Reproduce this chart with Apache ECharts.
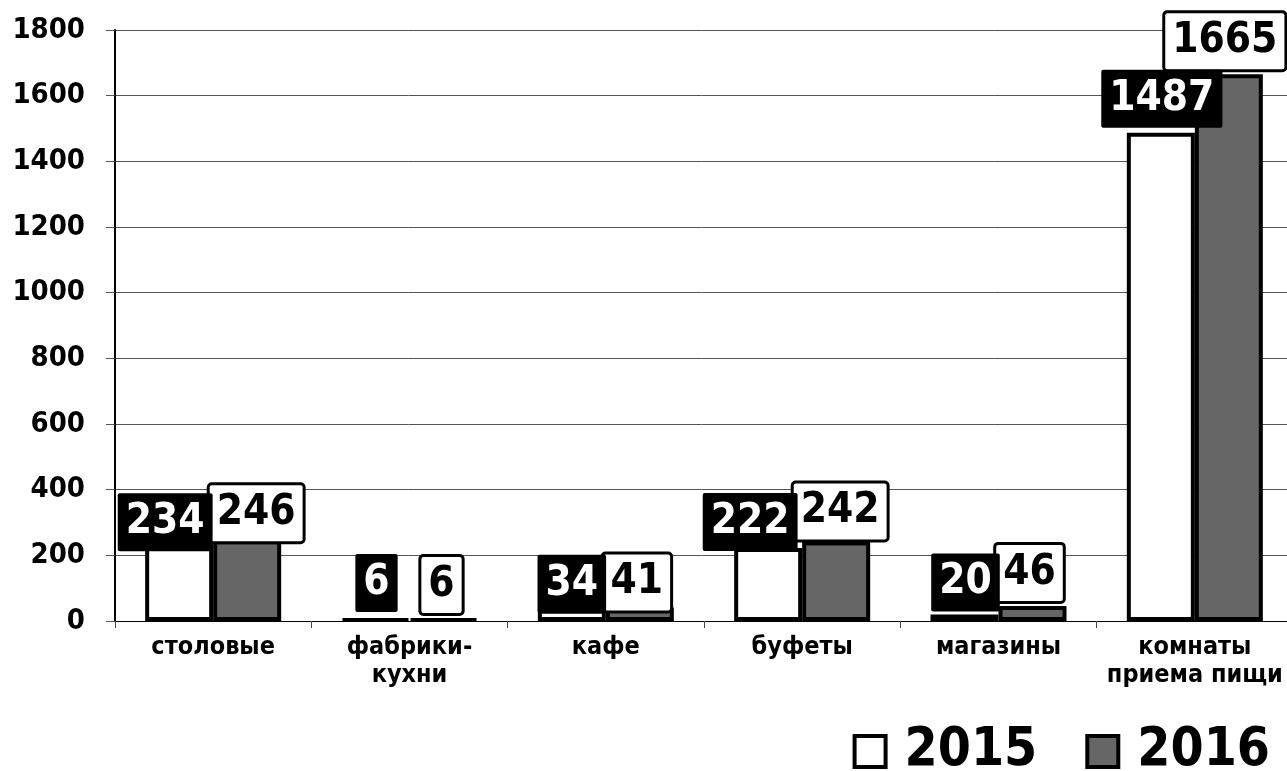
<!DOCTYPE html>
<html>
<head>
<meta charset="utf-8">
<script src="https://cdn.jsdelivr.net/npm/echarts@6/dist/echarts.min.js"></script>
<style>
    html, body { margin: 0; padding: 0; background: #fff; }
    #chart { width: 1287px; height: 771px; }
</style>
</head>
<body>
<div id="chart"></div>
<script>
var categories = ['столовые', 'фабрики-\nкухни', 'кафе', 'буфеты', 'магазины', 'комнаты\nприема пищи'];
var values2015 = [234, 6, 34, 222, 20, 1487];
var values2016 = [246, 6, 41, 242, 46, 1665];
var yTicks = { min: 0, max: 1800, interval: 200 };

// label nudges (px), Excel labels were moved by hand
var shift2015 = [[-14, 7], [1, -6], [0, 3], [-18, 3], [1, -3], [1, -5]];
var shift2016 = [[9, 1], [-2, -5], [-3, 3], [4, -2], [-3, -5], [-4, -5]];

var FONT = 'DejaVu Sans Condensed';

function buildData(values, shifts) {
    var arr = [];
    for (var i = 0; i < values.length; i++) {
        arr.push({
            value: values[i],
            label: { offset: shifts[i] }
        });
    }
    return arr;
}

var myChart = echarts.init(document.getElementById('chart'));

var option = {
    animation: false,
    textStyle: { fontFamily: FONT },
    grid: {
        left: 115,
        width: 1178,
        top: 30,
        bottom: 150,
        containLabel: false,
        outerBoundsMode: 'none'
    },
    legend: {
        right: 12,
        top: 720,
        itemWidth: 31,
        itemHeight: 31,
        itemGap: 48,
        icon: 'rect',
        itemStyle: { borderColor: '#000', borderWidth: 4 },
        textStyle: {
            fontFamily: FONT,
            fontWeight: 'bold',
            fontSize: 53,
            color: '#000',
            padding: [0, 0, 0, 14]
        },
        data: ['2015', '2016']
    },
    xAxis: {
        type: 'category',
        data: categories,
        axisLine: { lineStyle: { color: '#000', width: 1 } },
        axisTick: { show: true, length: 7, lineStyle: { color: '#444' } },
        axisLabel: {
            interval: 0,
            margin: 12,
            fontFamily: FONT,
            fontWeight: 'bold',
            fontSize: 25,
            lineHeight: 28,
            color: '#000'
        }
    },
    yAxis: {
        type: 'value',
        min: yTicks.min,
        max: yTicks.max,
        interval: yTicks.interval,
        axisLine: { show: true, lineStyle: { color: '#000', width: 2 } },
        axisTick: { show: true, length: 9, lineStyle: { color: '#555' } },
        splitLine: { lineStyle: { color: '#555', width: 1 } },
        axisLabel: {
            margin: 30,
            fontFamily: FONT,
            fontWeight: 'bold',
            fontSize: 29,
            color: '#000',
            formatter: function (v) { return String(v); }
        }
    },
    series: [{
        name: '2015',
        type: 'bar',
        z: 3,
        barWidth: 68,
        barGap: '0%',
        itemStyle: { color: '#fff', borderColor: '#000', borderWidth: 4 },
        label: {
            show: true,
            position: 'top',
            distance: 0,
            fontFamily: FONT,
            fontWeight: 'bold',
            fontSize: 42,
            lineHeight: 42,
            color: '#fff',
            backgroundColor: '#000',
            borderRadius: 2,
            padding: [8, 8, 8, 8]
        },
        data: buildData(values2015, shift2015)
    }, {
        name: '2016',
        type: 'bar',
        z: 2,
        barWidth: 68,
        itemStyle: { color: '#666', borderColor: '#000', borderWidth: 4 },
        label: {
            show: true,
            position: 'top',
            distance: 0,
            fontFamily: FONT,
            fontWeight: 'bold',
            fontSize: 42,
            lineHeight: 42,
            color: '#000',
            backgroundColor: '#fff',
            borderColor: '#000',
            borderWidth: 3,
            borderRadius: 2,
            padding: [7, 7, 7, 7]
        },
        data: buildData(values2016, shift2016)
    }]
};

myChart.setOption(option);
</script>
</body>
</html>
